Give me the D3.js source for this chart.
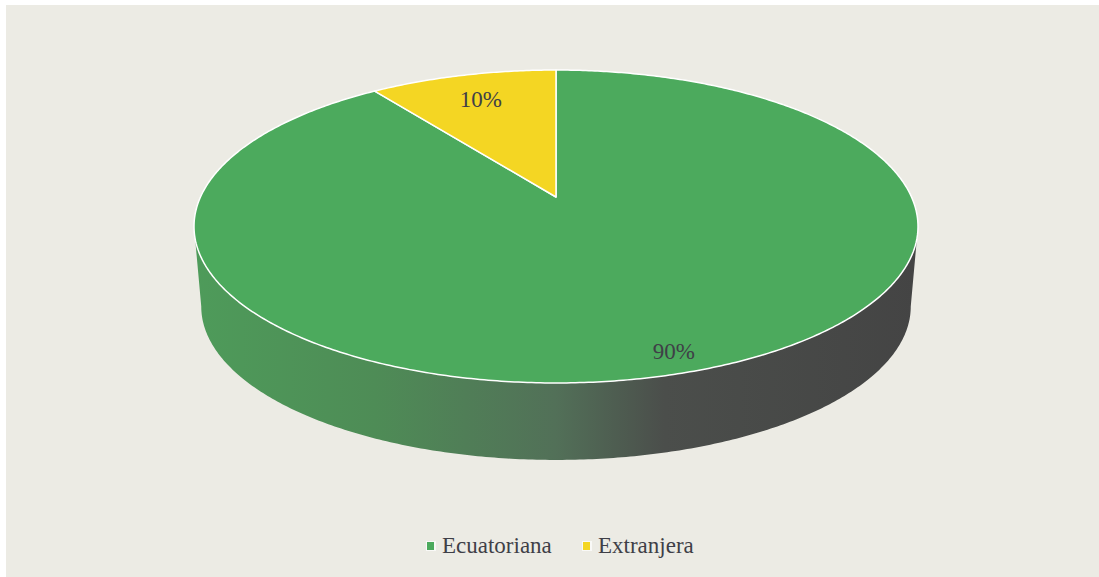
<!DOCTYPE html>
<html>
<head>
<meta charset="utf-8">
<script src="https://cdn.jsdelivr.net/npm/d3@7"></script>
<style>
  body { margin: 0; background: #ffffff; }
  svg { display: block; }
  .serif { font-family: "Times New Roman", Times, "Liberation Serif", "DejaVu Serif", serif; }
</style>
</head>
<body>
<script>
// chart data
var categories = ["Ecuatoriana", "Extranjera"];
var values = [90, 10];
var labels = ["90%", "10%"];
var colors = ["#4caa5d", "#f4d623"];

var width = 1099, height = 577;

// perspective settings for the tilted pie
var cx = 556, cy = 197;      // projected centre of the top face
var rx = 355.5, ry = 150.9;  // radius scale on screen
var k = 0.1885;              // perspective strength
var depth = 80.7, shrink = 0.98; // side height and bottom face scale
var labelR = [0.9, 0.78];

function proj(theta, r, bottom) {
    var u = r * Math.sin(theta), v = r * Math.cos(theta);
    var d = 1 + k * v;
    var s = bottom ? shrink : 1;
    var y0 = bottom ? cy + depth : cy;
    return [cx + s * rx * u / d, y0 - s * ry * v / d];
}

function arcPoints(a0, a1, r, bottom) {
    var n = Math.max(2, Math.ceil(Math.abs(a1 - a0) / 0.01));
    return d3.range(n + 1).map(function(i) {
        return proj(a0 + (a1 - a0) * i / n, r, bottom);
    });
}

var line = d3.line();

var svg = d3.select("body").append("svg")
    .attr("width", width)
    .attr("height", height);

svg.append("rect")
    .attr("x", 6).attr("y", 5)
    .attr("width", width - 6).attr("height", height - 5)
    .attr("fill", "#ecebe4");

var defs = svg.append("defs");
var grad = defs.append("linearGradient")
    .attr("id", "sideGrad")
    .attr("x1", "0%").attr("x2", "100%")
    .attr("y1", "0%").attr("y2", "0%");
grad.append("stop").attr("offset", "0%").attr("stop-color", "#4e9b5a");
grad.append("stop").attr("offset", "25%").attr("stop-color", "#4e8c56");
grad.append("stop").attr("offset", "50%").attr("stop-color", "#527058");
grad.append("stop").attr("offset", "65%").attr("stop-color", "#4b4e4b");
grad.append("stop").attr("offset", "100%").attr("stop-color", "#444444");

var pie = d3.pie().sort(null).startAngle(0).endAngle(2 * Math.PI);
var arcs = pie(values);

// visible side: between the two silhouette angles (near half)
var sil1 = Math.acos(-k), sil2 = 2 * Math.PI - sil1;
arcs.forEach(function(a, i) {
    var s0 = Math.max(a.startAngle, sil1), s1 = Math.min(a.endAngle, sil2);
    if (s1 <= s0) return;
    var top = arcPoints(s0, s1, 1, false);
    var bot = arcPoints(s1, s0, 1, true);
    svg.append("path")
        .attr("d", line(top.concat(bot)) + "Z")
        .attr("fill", i === 0 ? "url(#sideGrad)" : colors[i]);
});

// top faces
svg.selectAll(".slice")
    .data(arcs)
    .enter().append("path")
    .attr("class", "slice")
    .attr("d", function(a) {
        var pts = [proj(0, 0, false)].concat(arcPoints(a.startAngle, a.endAngle, 1, false));
        return line(pts) + "Z";
    })
    .attr("fill", function(a, i) { return colors[i]; })
    .attr("stroke", "#ffffff")
    .attr("stroke-width", 1.5)
    .attr("stroke-linejoin", "round");

// data labels
svg.selectAll(".lbl")
    .data(arcs)
    .enter().append("text")
    .attr("class", "lbl serif")
    .attr("x", function(a, i) { return proj((a.startAngle + a.endAngle) / 2, labelR[i], false)[0]; })
    .attr("y", function(a, i) { return proj((a.startAngle + a.endAngle) / 2, labelR[i], false)[1]; })
    .attr("dy", "0.35em")
    .attr("text-anchor", "middle")
    .style("font-size", "23px")
    .attr("fill", "#3f3f47")
    .text(function(a, i) { return labels[i]; });

// legend
var legendX = [427, 583];
var legend = svg.selectAll(".legend")
    .data(categories)
    .enter().append("g")
    .attr("class", "legend")
    .attr("transform", function(d, i) { return "translate(" + legendX[i] + ",546)"; });

legend.append("rect")
    .attr("x", -1).attr("y", -5)
    .attr("width", 10).attr("height", 10)
    .attr("fill", "#ffffff")
    .attr("opacity", 0.7);
legend.append("rect")
    .attr("x", 0).attr("y", -4)
    .attr("width", 7).attr("height", 8)
    .attr("fill", function(d, i) { return colors[i]; });
legend.append("text")
    .attr("class", "serif")
    .attr("x", 15)
    .attr("y", 7)
    .style("font-size", "23px")
    .attr("fill", "#3f3f47")
    .text(function(d) { return d; });
</script>
</body>
</html>
